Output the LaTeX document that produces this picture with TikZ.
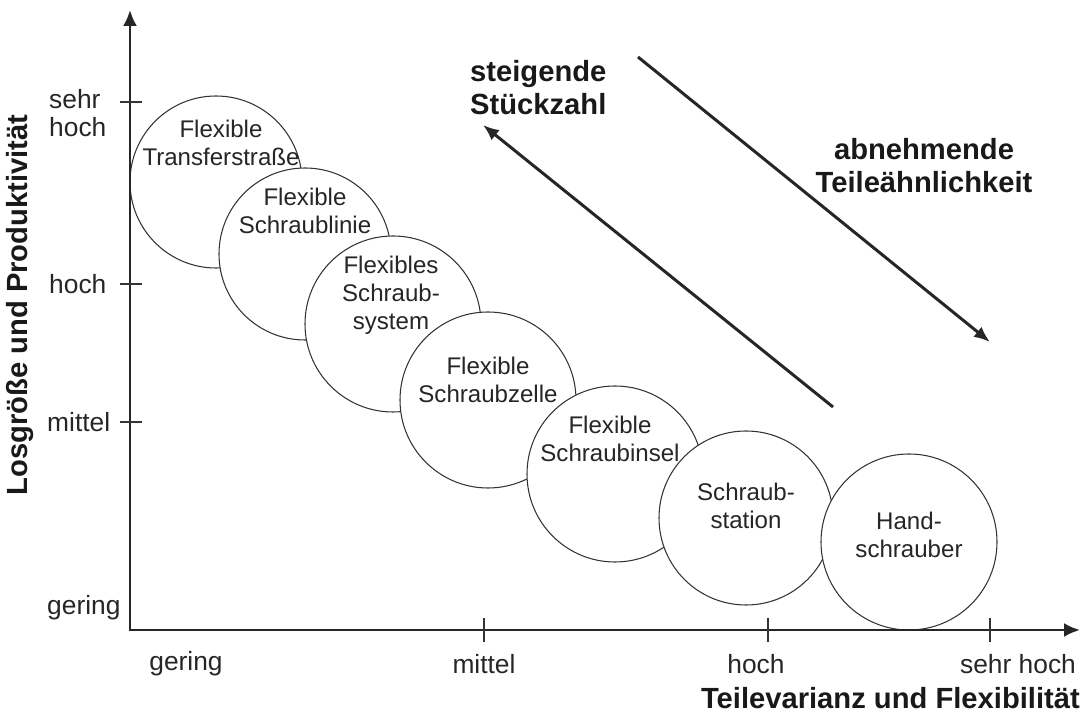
\documentclass[tikz,border=0pt]{standalone}
\usepackage{fontspec}
\setmainfont{Liberation Sans}
\usetikzlibrary{arrows.meta}

\begin{document}
\begin{tikzpicture}[
  x = 0.2mm, y = -0.2mm,
  stage/.style = {circle, draw = black!80, fill = white, line width = 0.6pt, inner sep = 0pt, minimum size = 35.2mm},
  stagetext/.style = {align = center, text = black!85, font = \fontsize{13.7}{15.9}\selectfont},
  scale label/.style = {text = black!85, font = \fontsize{15}{15.9}\selectfont},
  title/.style = {text = black!90, font = \fontsize{16.6}{18.8}\selectfont\bfseries},
  axis/.style = {line width = 1.4pt, black!85, {Latex[length = 3.2mm, width = 2.8mm]}-{Latex[length = 3.2mm, width = 2.8mm]}},
  trend/.style = {line width = 1.7pt, black!85, -{Latex[length = 3.2mm, width = 2.6mm]}},
  tick/.style = {line width = 0.6pt, black!80},
  ]
  \useasboundingbox (0,0) rectangle (1088,716);

  \node[stage, minimum size = 34.4mm] (ts) at (216,182) {};
  \node[stage, minimum size = 34.4mm] (sl) at (305,254) {};
  \node[stage] (ss) at (393,324) {};
  \node[stage] (sz) at (488,400) {};
  \node[stage] (si) at (615,474) {};
  \node[stage, minimum size = 34.8mm] (st) at (746,518) {};
  \node[stage] (hs) at (909,542) {};

  \node[stagetext] (tst) at (221,143) {Flexible\\Transferstraße};
  \node[stagetext] (slt) at (305,211) {Flexible\\Schraublinie};
  \node[stagetext] (sst) at (391,295) {Flexibles\\Schraub-\\system};
  \node[stagetext] (szt) at (488,380) {Flexible\\Schraubzelle};
  \node[stagetext] (sit) at (610,439) {Flexible\\Schraubinsel};
  \node[stagetext] (stt) at (746,506) {Schraub-\\station};
  \node[stagetext] (hst) at (909,535) {Hand-\\schrauber};

  \coordinate (o) at (130,630);
  \coordinate (ytop) at (130,10);
  \coordinate (xend) at (1080,630);
  \draw[axis] (ytop) -- (o) -- (xend);

  \foreach \y in {102,284,422}
    \draw[tick] (120,\y) -- (142,\y);
  \foreach \x in {484,768,990}
    \draw[tick] (\x,618) -- (\x,642);

  \node[scale label, anchor = west, align = left] (ysh) at (43,113) {sehr\\hoch};
  \node[scale label, anchor = west] (yh) at (43,284) {hoch};
  \node[scale label, anchor = west] (ym) at (41,422) {mittel};
  \node[scale label, anchor = west] (yg) at (41,608) {gering};

  \node[scale label] (xg) at (186,664) {gering};
  \node[scale label] (xm) at (484,664) {mittel};
  \node[scale label] (xh) at (756,664) {hoch};
  \node[scale label] (xsh) at (1018,664) {sehr hoch};

  \node[title, anchor = east] (xtitle) at (1086,698) {Teilevarianz und Flexibilität};
  \node[title, rotate = 90] (ytitle) at (20,305) {Losgröße und Produktivität};

  \coordinate (s1) at (833,407);
  \coordinate (s2) at (483,125);
  \draw[trend] (s1) -- (s2);
  \coordinate (a1) at (638,57);
  \coordinate (a2) at (990,342);
  \draw[trend] (a1) -- (a2);

  \node[title, anchor = west, align = left] (stk) at (464,88) {steigende\\Stückzahl};
  \node[title, align = center] (tae) at (924,166) {abnehmende\\Teileähnlichkeit};
\end{tikzpicture}
\end{document}
